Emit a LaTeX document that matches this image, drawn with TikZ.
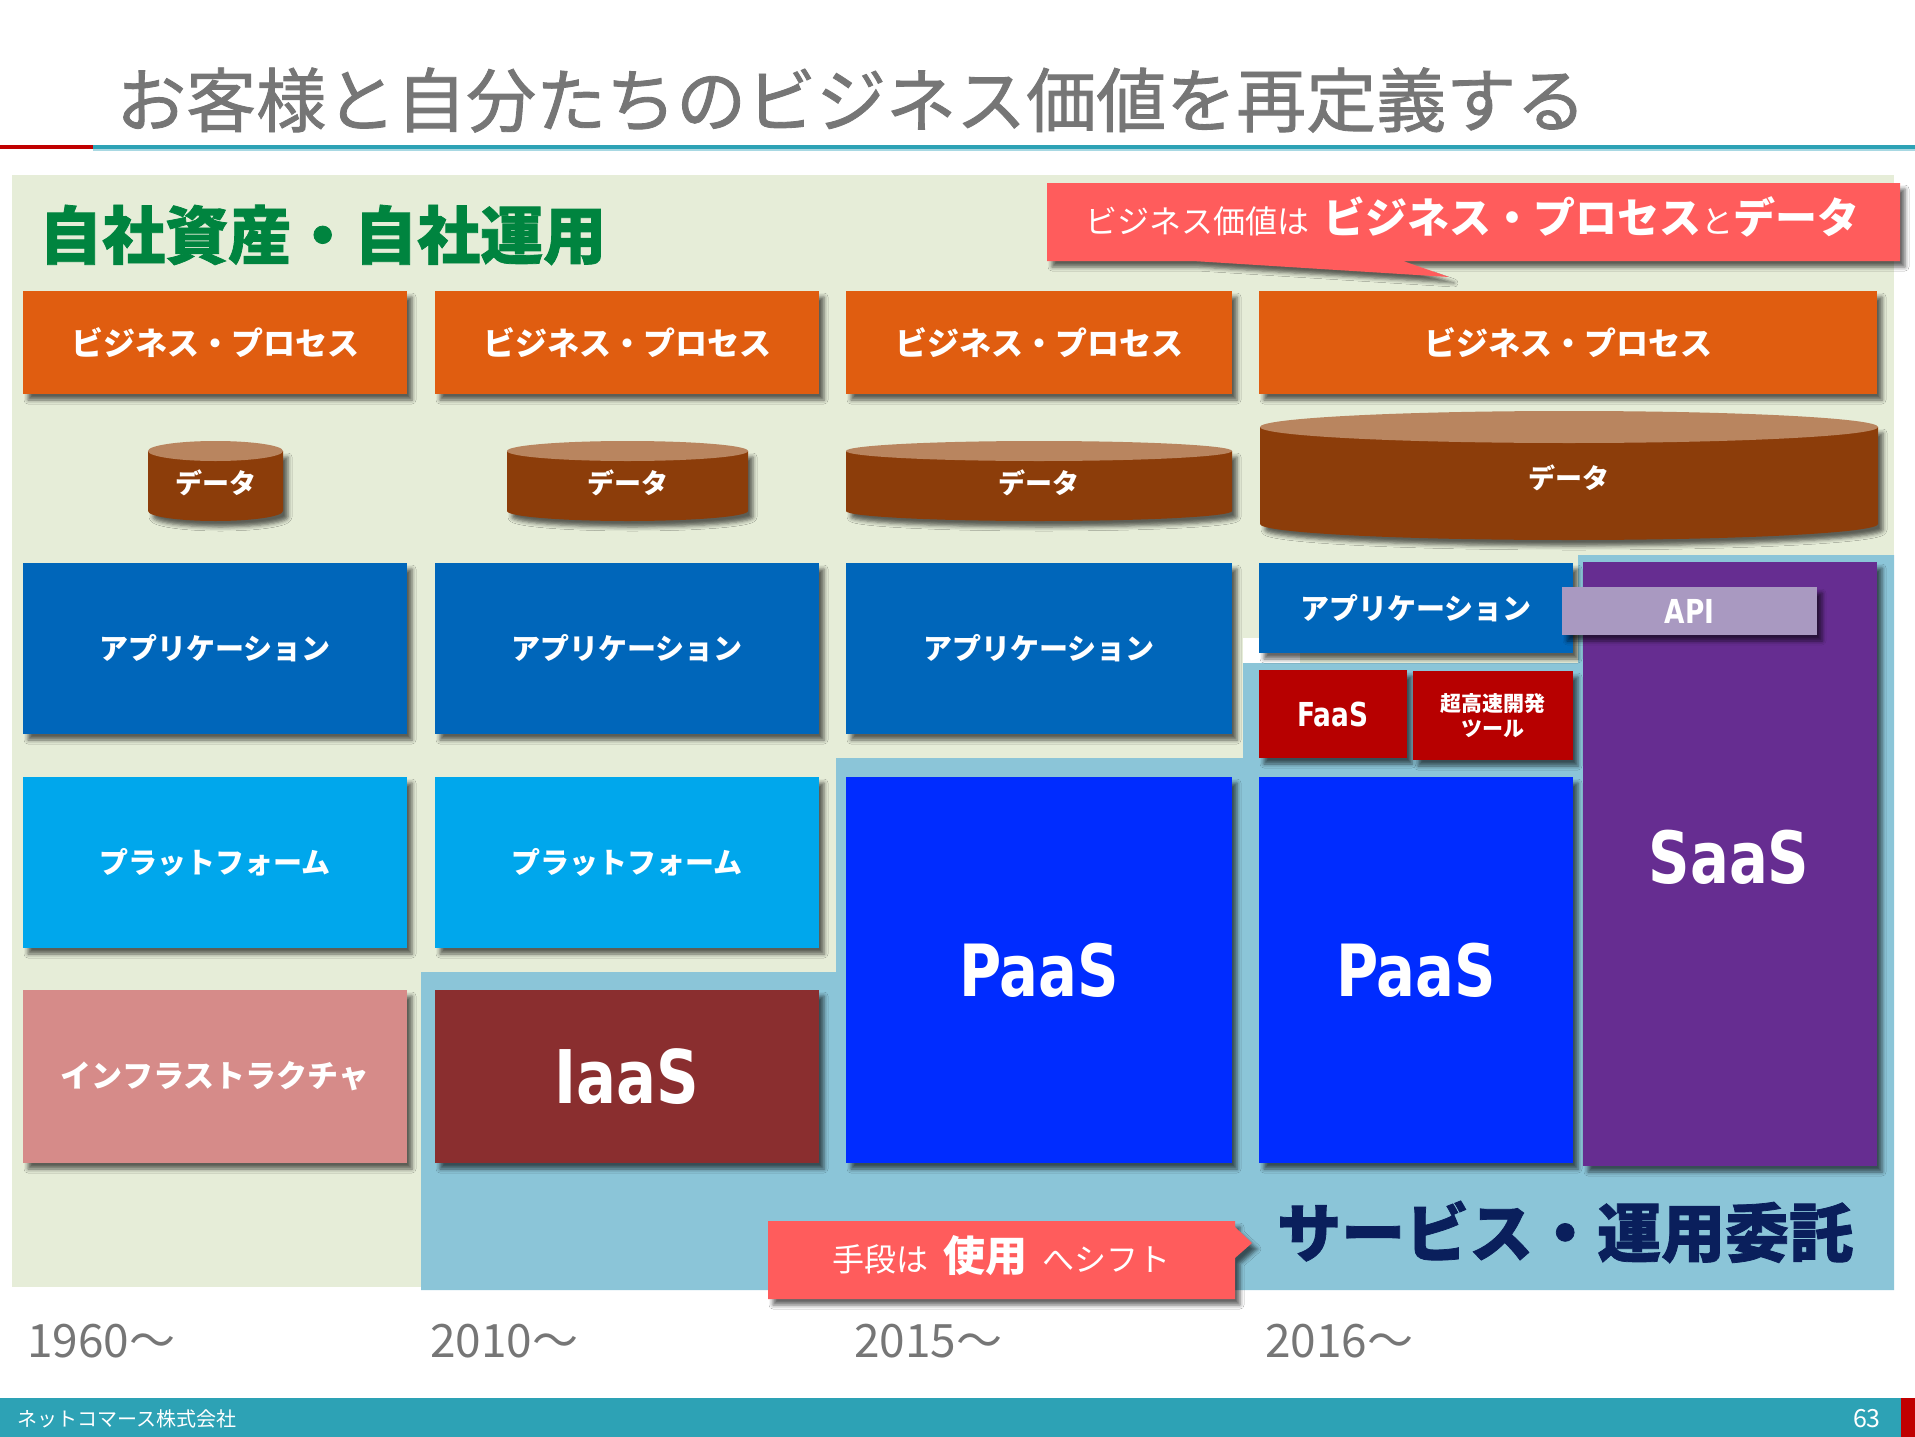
\documentclass[tikz,border=0pt]{standalone}
\usepackage{fontspec}
\setmainfont{Noto Sans CJK JP}
\newfontfamily\lat[FakeStretch=0.8]{DejaVu Sans}
\newfontfamily\jpmed[FakeBold=1.2]{Noto Sans CJK JP}
\newfontfamily\jph[BoldFeatures={FakeBold=1.2}]{Noto Sans CJK JP}
\usetikzlibrary{shadows.blur}
\newcommand\fsz[1]{\fontsize{#1}{#1}\selectfont}
\definecolor{cGreenBg}{HTML}{E6EDD8}
\definecolor{cLB}{HTML}{8BC5D8}
\definecolor{cOrange}{HTML}{E05D10}
\definecolor{cApp}{HTML}{0066BA}
\definecolor{cPlat}{HTML}{00A7EC}
\definecolor{cInfra}{HTML}{D68B89}
\definecolor{cIaaS}{HTML}{8A2E2F}
\definecolor{cPaaS}{HTML}{002CFF}
\definecolor{cSaaS}{HTML}{662D91}
\definecolor{cFaaS}{HTML}{B70000}
\definecolor{cAPI}{HTML}{A999C1}
\definecolor{cCall}{HTML}{FF5C5C}
\definecolor{cHeadG}{HTML}{00843F}
\definecolor{cNavy}{HTML}{0A1F5C}
\definecolor{cTeal}{HTML}{2DA2B5}
\definecolor{cTealL}{HTML}{A8D8E2}
\definecolor{cGray}{HTML}{767676}
\definecolor{cCylBody}{HTML}{8C3D0A}
\definecolor{cCylTop}{HTML}{B9855F}
\definecolor{cRedLine}{HTML}{C00000}
\newcommand\cyl[7]{% name, cx, rx, ytop, ybot, ry, fontsize
  \fill[cCylBody, shd] ({#2-#3},#4) -- ({#2-#3},#5)
    arc[start angle=180, end angle=360, x radius=#3pt, y radius=#6pt]
    -- ({#2+#3},#4) -- cycle;
  \fill[cCylTop] (#2,#4) ellipse [x radius=#3pt, y radius=#6pt];
  \node[lbl, font=\bfseries\fsz{#7}] (#1) at (#2,{(#4+#5)/2+2}) {データ};
}
\begin{document}
\begin{tikzpicture}[x=1pt, y=-1pt,
  shd/.style={blur shadow={shadow xshift=5pt, shadow yshift=-6pt, shadow blur radius=4pt, shadow opacity=60}},
  box/.style={anchor=north west, inner sep=0, outer sep=0, text=white, align=center, shd},
  lbl/.style={inner sep=0, outer sep=0, text=white, align=center},
  yr/.style={anchor=west, inner sep=0, text=cGray, font=\fsz{46}}
]
\useasboundingbox (0,0) rectangle (1915,1437);
\fill[white] (0,0) rectangle (1915,1437);

% title and rule
\node[anchor=west, inner sep=0, text=cGray, font=\jpmed\fsz{70}] (title) at (116,100) {お客様と自分たちのビジネス価値を再定義する};
\draw[cTealL, line width=2pt] (93,150) -- (1915,150);
\draw[cTeal, line width=3.5pt] (93,147) -- (1915,147);
\draw[cRedLine, line width=4pt] (0,147) -- (93,147);

% backgrounds
\fill[cGreenBg] (12,175) rectangle (1894,1287);
\fill[cLB] (421,1290) -- (421,972) -- (836,972) -- (836,758) -- (1243,758) -- (1243,663)
  -- (1578,663) -- (1578,555) -- (1894,555) -- (1894,1290) -- cycle;
\fill[white] (1243,638) rectangle (1300,663);

% headings
\node[anchor=west, inner sep=0, text=cHeadG, font=\jph\bfseries\fsz{63}] (own) at (39,235) {自社資産・自社運用};
\node[anchor=west, inner sep=0, text=cNavy, font=\jph\bfseries\fsz{64}] (svc) at (1277,1232) {サービス・運用委託};

% business process row
\node[box, fill=cOrange, minimum width=384pt, minimum height=103pt, font=\bfseries\fsz{32}] (bp1) at (23,291) {ビジネス・プロセス};
\node[box, fill=cOrange, minimum width=384pt, minimum height=103pt, font=\bfseries\fsz{32}] (bp2) at (435,291) {ビジネス・プロセス};
\node[box, fill=cOrange, minimum width=386pt, minimum height=103pt, font=\bfseries\fsz{32}] (bp3) at (846,291) {ビジネス・プロセス};
\node[box, fill=cOrange, minimum width=618pt, minimum height=103pt, font=\bfseries\fsz{32}] (bp4) at (1259,291) {ビジネス・プロセス};

% data cylinders
\cyl{d1}{215.5}{67.5}{451}{511}{10}{27}
\cyl{d2}{627.5}{120.5}{451}{511}{10}{27}
\cyl{d3}{1039}{193}{451}{511}{10}{27}
\cyl{d4}{1569}{309}{427}{524}{16}{27}

% application row
\node[box, fill=cApp, minimum width=384pt, minimum height=171pt, font=\bfseries\fsz{29}] (ap1) at (23,563) {アプリケーション};
\node[box, fill=cApp, minimum width=384pt, minimum height=171pt, font=\bfseries\fsz{29}] (ap2) at (435,563) {アプリケーション};
\node[box, fill=cApp, minimum width=386pt, minimum height=171pt, font=\bfseries\fsz{29}] (ap3) at (846,563) {アプリケーション};
\node[box, fill=cApp, minimum width=314pt, minimum height=90pt, font=\bfseries\fsz{29}] (ap4) at (1259,563) {アプリケーション};

% platform row
\node[box, fill=cPlat, minimum width=384pt, minimum height=171pt, font=\bfseries\fsz{29}] (pf1) at (23,777) {プラットフォーム};
\node[box, fill=cPlat, minimum width=384pt, minimum height=171pt, font=\bfseries\fsz{29}] (pf2) at (435,777) {プラットフォーム};

% infrastructure row
\node[box, fill=cInfra, minimum width=384pt, minimum height=173pt, font=\bfseries\fsz{31}] (inf) at (23,990) {インフラストラクチャ};
\node[box, fill=cIaaS, minimum width=384pt, minimum height=173pt, font=\lat\bfseries\fsz{74}] (iaas) at (435,990) {IaaS};

% PaaS
\node[box, fill=cPaaS, minimum width=386pt, minimum height=386pt, font=\lat\bfseries\fsz{72}] (paas1) at (846,777) {PaaS};
\node[box, fill=cPaaS, minimum width=314pt, minimum height=386pt, font=\lat\bfseries\fsz{72}] (paas2) at (1259,777) {PaaS};

% FaaS and tools
\node[box, fill=cFaaS, minimum width=148pt, minimum height=88pt, font=\lat\bfseries\fsz{33}] (faas) at (1259,670) {FaaS};
\node[box, fill=cFaaS, minimum width=160pt, minimum height=89pt, font=\bfseries\fontsize{21}{25}\selectfont] (tool) at (1413,671) {超高速開発\\ツール};

% SaaS
\node[box, fill=cSaaS, minimum width=294pt, minimum height=604pt] (saas) at (1583,562) {};
\node[lbl, font=\lat\bfseries\fsz{72}] (saastxt) at (1729,857) {SaaS};

% API
\node[box, fill=cAPI, minimum width=255pt, minimum height=48pt, font=\lat\bfseries\fsz{33}] (api) at (1562,587) {API};

% callout top
\fill[cCall, shd] (1047,183) -- (1900,183) -- (1900,261) -- (1403,261) -- (1449,277)
  -- (1193,261) -- (1047,261) -- cycle;
\node[anchor=base west, inner sep=0, text=white] (calltop) at (1085,233)
  {\fsz{32}ビジネス価値は\hspace{14pt}\bfseries\fsz{42}ビジネス・プロセス\mdseries\fsz{32}と\bfseries\fsz{42}データ};

% callout bottom
\fill[cCall, shd] (768,1221) -- (1235,1221) -- (1235,1227) -- (1252,1243) -- (1235,1258)
  -- (1235,1299) -- (768,1299) -- cycle;
\node[anchor=base west, inner sep=0, text=white] (callbot) at (832,1271)
  {\fsz{32}手段は\hspace{15pt}\bfseries\fsz{42}使用\hspace{15pt}\mdseries\fsz{32}へシフト};

% years
\node[yr] (y1960) at (27,1341) {1960〜};
\node[yr] (y2010) at (430,1341) {2010〜};
\node[yr] (y2015) at (854,1341) {2015〜};
\node[yr] (y2016) at (1265,1341) {2016〜};

% footer
\fill[cTeal] (0,1398) rectangle (1915,1437);
\fill[cRedLine] (1901,1398) rectangle (1915,1437);
\node[anchor=west, inner sep=0, text=white, font=\fsz{20}] (company) at (17,1419) {ネットコマース株式会社};
\node[anchor=east, inner sep=0, text=white, font=\fsz{25}] (page) at (1881,1419) {63};
\end{tikzpicture}
\end{document}
